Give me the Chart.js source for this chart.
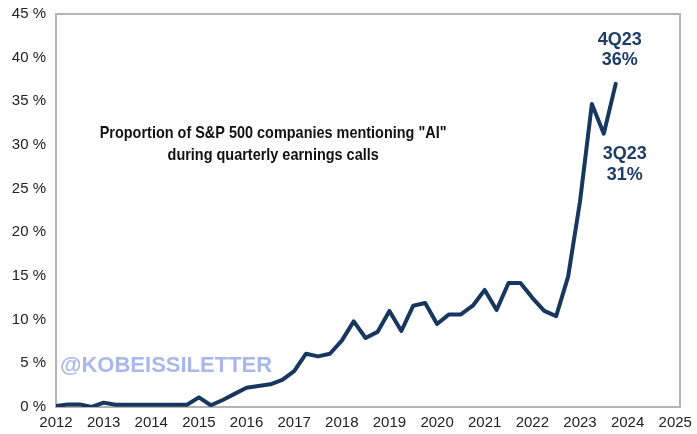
<!DOCTYPE html>
<html>
<head>
<meta charset="utf-8">
<script src="https://cdn.jsdelivr.net/npm/chart.js@4.4.0/dist/chart.umd.min.js"></script>
<style>
  html, body { margin: 0; padding: 0; background: #fff; }
  #chart { display: block; }
</style>
</head>
<body>
<canvas id="chart" width="697" height="434"></canvas>
<script>
// quarterly share of S&P 500 companies mentioning "AI" on earnings calls (%)
const years = [2012, 2013, 2014, 2015, 2016, 2017, 2018, 2019, 2020, 2021, 2022, 2023]
const quarterNames = ['1Q', '2Q', '3Q', '4Q']
const aiMentionPct = [
    0.1, 0.3, 0.3, 0.0,
    0.5, 0.25, 0.25, 0.25,
    0.25, 0.25, 0.25, 0.25,
    1.1, 0.2, 0.8, 1.5,
    2.2, 2.4, 2.6, 3.1,
    4.1, 6.1, 5.8, 6.1,
    7.6, 9.8, 7.9, 8.6,
    11.0, 8.7, 11.6, 11.9,
    9.5, 10.6, 10.6, 11.6,
    13.4, 11.1, 14.2, 14.2,
    12.5, 11.0, 10.4, 14.9,
    23.5, 34.7, 31.3, 37.0
]
const xTicks = [2012, 2013, 2014, 2015, 2016, 2017, 2018, 2019, 2020, 2021, 2022, 2023, 2024, 2025]
const yTicks = [0, 5, 10, 15, 20, 25, 30, 35, 40, 45]
const titleLines = ['Proportion of S&P 500 companies mentioning "AI"', 'during quarterly earnings calls']
const watermark = '@KOBEISSILETTER'
const callouts = [
    { quarter: '4Q23', text: '36%', dx: 4, dy: [-44, -24] },
    { quarter: '3Q23', text: '31%', dx: 21, dy: [20, 41] }
]

const FONT = "'Liberation Sans', Arial, Helvetica, sans-serif"
const NAVY = '#17375e'

const quarterLabels = []
const points = []
years.forEach((year, yi) => {
    quarterNames.forEach((q, qi) => {
        quarterLabels.push(q + String(year).slice(2))
        points.push({ x: year + qi / 4, y: aiMentionPct[yi * 4 + qi] })
    })
})

const framePlugin = {
    id: 'frame',
    beforeDatasetsDraw(chart) {
        const { ctx, chartArea: a } = chart
        ctx.save()
        ctx.strokeStyle = '#b4b4b4'
        ctx.lineWidth = 2
        ctx.strokeRect(a.left, a.top, a.right - a.left, a.bottom - a.top)
        ctx.restore()
    }
}

const textPlugin = {
    id: 'texts',
    afterDatasetsDraw(chart) {
        const { ctx, chartArea: a } = chart
        const w = a.right - a.left
        const h = a.bottom - a.top
        ctx.save()

        // title inside the plot
        ctx.fillStyle = '#111'
        ctx.font = 'bold 17px ' + FONT
        ctx.textAlign = 'center'
        ctx.textBaseline = 'middle'
        const tx = a.left + w * 0.348
        const tys = [a.top + h * 0.303, a.top + h * 0.359]
        titleLines.forEach((line, i) => {
            ctx.save()
            ctx.translate(tx, tys[i])
            ctx.scale(0.85, 1)
            ctx.fillText(line, 0, 0)
            ctx.restore()
        })

        // watermark
        ctx.fillStyle = '#a9b7ec'
        ctx.font = 'bold 22px ' + FONT
        ctx.textAlign = 'left'
        ctx.fillText(watermark, a.left + 4, a.top + h * 0.896)

        // callouts
        const meta = chart.getDatasetMeta(0)
        ctx.fillStyle = '#1f3d66'
        ctx.font = 'bold 18px ' + FONT
        ctx.textAlign = 'center'
        callouts.forEach(c => {
            const pt = meta.data[quarterLabels.indexOf(c.quarter)]
            ctx.fillText(c.quarter, pt.x + c.dx, pt.y + c.dy[0])
            ctx.fillText(c.text, pt.x + c.dx, pt.y + c.dy[1])
        })
        ctx.restore()
    }
}

new Chart(document.getElementById('chart'), {
    type: 'line',
    data: {
        datasets: [{
            data: points,
            borderColor: NAVY,
            borderWidth: 4,
            borderCapStyle: 'round',
            borderJoinStyle: 'round',
            pointRadius: 0,
            tension: 0,
            fill: false
        }]
    },
    options: {
        responsive: false,
        animation: false,
        layout: { padding: { top: 14, right: 17, left: 0, bottom: 0 } },
        plugins: {
            legend: { display: false },
            tooltip: { enabled: false }
        },
        scales: {
            x: {
                type: 'linear',
                min: 2012,
                max: 2025.1,
                grid: { display: false, drawTicks: false },
                border: { display: false },
                afterBuildTicks: scale => { scale.ticks = xTicks.map(v => ({ value: v })) },
                afterFit: scale => {
                    scale.height = 27
                    scale.paddingLeft = 0
                    scale.paddingRight = 0
                },
                ticks: {
                    padding: 7,
                    maxRotation: 0,
                    autoSkip: false,
                    color: '#222',
                    font: { family: FONT, size: 15 },
                    callback: v => String(v)
                }
            },
            y: {
                min: 0,
                max: 45,
                grid: { display: false, drawTicks: false },
                border: { display: false },
                afterBuildTicks: scale => { scale.ticks = yTicks.map(v => ({ value: v })) },
                afterFit: scale => {
                    scale.width = 56
                    scale.paddingTop = 0
                    scale.paddingBottom = 0
                },
                ticks: {
                    padding: 10,
                    color: '#222',
                    font: { family: FONT, size: 15 },
                    callback: v => v + ' %'
                }
            }
        }
    },
    plugins: [framePlugin, textPlugin]
})
</script>
</body>
</html>
